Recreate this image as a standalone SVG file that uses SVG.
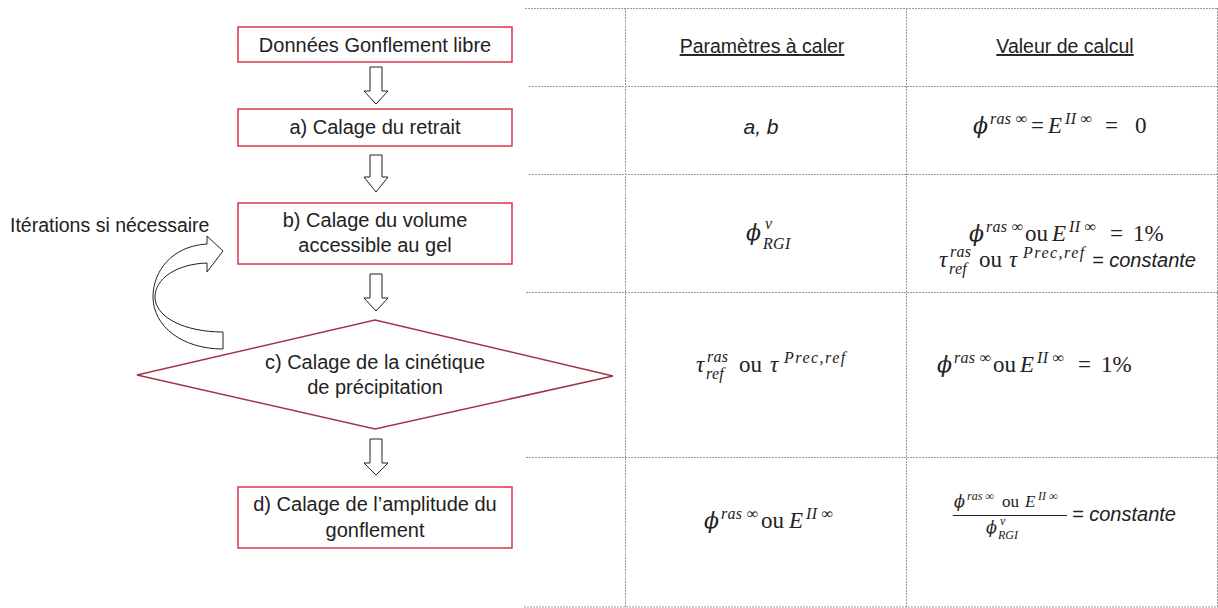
<svg xmlns="http://www.w3.org/2000/svg" width="1218" height="608" viewBox="0 0 1218 608">
<style>
.box{fill:#fff;stroke:#d9344f;stroke-width:1.5}
.dia{fill:#fff;stroke:#a33448;stroke-width:1.5}
.blk{fill:#fff;stroke:#222;stroke-width:1}
.t{font-family:"Liberation Sans",Arial,sans-serif;font-size:20px;fill:#222;text-anchor:middle}
.tl{font-family:"Liberation Sans",Arial,sans-serif;font-size:19.5px;fill:#222}
.grid{stroke:#999;stroke-width:1;stroke-dasharray:2 1;fill:none}
.h{font-family:"Liberation Sans",Arial,sans-serif;font-size:19.5px;fill:#222;text-anchor:middle;text-decoration:underline}
.m{font-family:"Liberation Serif","DejaVu Serif",serif;font-size:23px;fill:#222}
.f{font-size:17px}
.i{font-style:italic}
.p{font-family:"DejaVu Serif","Liberation Serif",serif;font-style:italic;font-size:22px}
.pf{font-family:"DejaVu Serif","Liberation Serif",serif;font-style:italic;font-size:16px}
.s{font-size:16px;font-style:italic;letter-spacing:0.3px}
.ss{font-size:12px;font-style:italic}
.w{letter-spacing:1.5px}
.c{font-family:"Liberation Sans",Arial,sans-serif;font-style:italic;font-size:20px;fill:#222}
</style>
<g id="table">
<line class="grid" x1="525" y1="8.5" x2="1218" y2="8.5"/>
<line class="grid" x1="529" y1="86.5" x2="1218" y2="86.5"/>
<line class="grid" x1="529" y1="174.5" x2="1218" y2="174.5"/>
<line class="grid" x1="526" y1="292.5" x2="1218" y2="292.5"/>
<line class="grid" x1="526" y1="457.5" x2="1218" y2="457.5"/>
<line class="grid" x1="524" y1="607" x2="1218" y2="607"/>
<line class="grid" x1="625.5" y1="8" x2="625.5" y2="608"/>
<line class="grid" x1="906.5" y1="8" x2="906.5" y2="608"/>
<line class="grid" x1="1217.5" y1="8" x2="1217.5" y2="608"/>
<text class="h" x="762" y="53">Paramètres à caler</text>
<text class="h" x="1065" y="53">Valeur de calcul</text>
<text class="c" x="761" y="134" text-anchor="middle" style="font-size:21px">a, b</text>
<text class="m"><tspan class="p" x="973" y="133">ϕ</tspan><tspan class="s" x="990" y="124">ras ∞</tspan><tspan x="1031" y="133">=</tspan><tspan class="i" x="1048" y="133">E</tspan><tspan class="s" x="1065" y="124">II ∞</tspan><tspan x="1105" y="133">=</tspan><tspan x="1135" y="133">0</tspan></text>
<text class="m"><tspan class="p" x="746" y="240">ϕ</tspan><tspan class="s" x="765" y="229">v</tspan></text>
<text class="m"><tspan class="s" x="763" y="249">RGI</tspan></text>
<text class="m"><tspan class="p" x="969" y="241">ϕ</tspan><tspan class="s" x="986" y="232">ras ∞</tspan><tspan x="1025" y="241">ou</tspan><tspan class="i" x="1052" y="241">E</tspan><tspan class="s" x="1069" y="232">II ∞</tspan><tspan x="1110" y="241">=</tspan><tspan x="1133" y="241">1%</tspan></text>
<text class="m"><tspan class="i" x="939" y="267">τ</tspan><tspan class="s" x="950" y="257">ras</tspan><tspan x="979" y="267">ou</tspan><tspan class="i" x="1009" y="267">τ</tspan><tspan class="s w" x="1023" y="258">Prec,ref</tspan></text>
<text class="m"><tspan class="s" x="949" y="274">ref</tspan></text>
<text class="c" x="1092" y="267">= constante</text>
<text class="m"><tspan class="i" x="696" y="372">τ</tspan><tspan class="s" x="707" y="362">ras</tspan><tspan x="739" y="372">ou</tspan><tspan class="i" x="770" y="372">τ</tspan><tspan class="s w" x="784" y="363">Prec,ref</tspan></text>
<text class="m"><tspan class="s" x="706" y="379">ref</tspan></text>
<text class="m"><tspan class="p" x="937" y="372">ϕ</tspan><tspan class="s" x="954" y="363">ras ∞</tspan><tspan x="993" y="372">ou</tspan><tspan class="i" x="1020" y="372">E</tspan><tspan class="s" x="1037" y="363">II ∞</tspan><tspan x="1078" y="372">=</tspan><tspan x="1101" y="372">1%</tspan></text>
<text class="m"><tspan class="p" x="704" y="528">ϕ</tspan><tspan class="s" x="721" y="519">ras ∞</tspan><tspan x="761" y="528">ou</tspan><tspan class="i" x="789" y="528">E</tspan><tspan class="s" x="806" y="519">II ∞</tspan></text>
<text class="m f"><tspan class="pf" x="954" y="507">ϕ</tspan><tspan class="ss" x="967" y="500">ras ∞</tspan><tspan x="1002" y="507">ou</tspan><tspan class="i" x="1025" y="507">E</tspan><tspan class="ss" x="1038" y="500">II ∞</tspan></text>
<line x1="953" y1="515.5" x2="1067" y2="515.5" stroke="#222" stroke-width="1"/>
<text class="m f"><tspan class="pf" x="986" y="533">ϕ</tspan><tspan class="ss" x="1000" y="525">v</tspan></text>
<text class="m f"><tspan class="ss" x="998" y="539">RGI</tspan></text>
<text class="c" x="1072" y="521">= constante</text>
</g>
<g id="connectors">
<polygon class="blk" points="370,67 382,67 382,91 388,91 376,104 364,91 370,91"/>
<polygon class="blk" points="370,155 382,155 382,177 388,177 376,192 364,177 370,177"/>
<polygon class="blk" points="370,274 382,274 382,298 388,298 376,311 364,298 370,298"/>
<polygon class="blk" points="370,439 382,439 382,463 388,463 376,475 364,463 370,463"/>
<path class="blk" d="M207,244 C172,246 153,271 153,297 C153,326 182,349 223,349 L223,332 C184,332 155,317 155,297 C155,279 176,264 207,263 L207,272 L223,251 L207,236 Z"/>
</g>
<g id="n0"><rect class="box" x="238" y="27" width="274" height="35"/><text class="t" x="375" y="52">Données Gonflement libre</text></g>
<g id="n1"><rect class="box" x="238" y="109" width="274" height="37"/><text class="t" x="375" y="134">a) Calage du retrait</text></g>
<g id="n2"><rect class="box" x="238" y="203" width="274" height="61"/><text class="t" x="375" y="227">b) Calage du volume</text><text class="t" x="375" y="252">accessible au gel</text></g>
<g id="n3"><polygon class="dia" points="375,320 613,376 375,429 137,375"/><text class="t" x="375" y="369">c) Calage de la cinétique</text><text class="t" x="375" y="394">de précipitation</text></g>
<g id="n4"><rect class="box" x="238" y="487" width="274" height="61"/><text class="t" x="375" y="511">d) Calage de l’amplitude du</text><text class="t" x="375" y="537">gonflement</text></g>
<g id="lbl"><text class="tl" x="10" y="232">Itérations si nécessaire</text></g>
</svg>
